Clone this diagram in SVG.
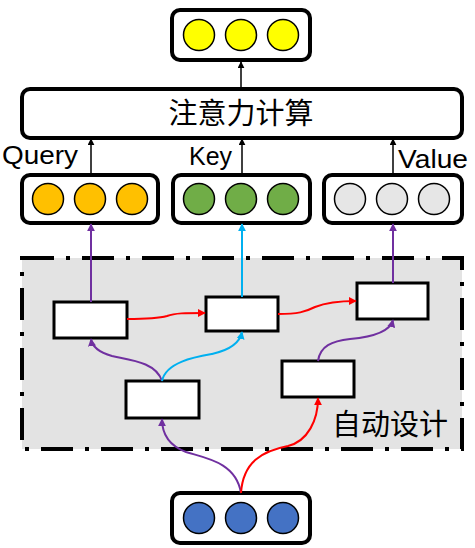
<svg xmlns="http://www.w3.org/2000/svg" width="475" height="548" viewBox="0 0 475 548">
<defs>
<style>
.box{fill:#fff;stroke:#000;stroke-width:4}
.cell{fill:#fff;stroke:#000;stroke-width:3}
.c{stroke:#000;stroke-width:1.5}
.lbl{font-family:"Liberation Sans",Arial,sans-serif;font-size:25px;fill:#000}
.cjk{font-family:"Noto Sans CJK SC","Liberation Sans",sans-serif;font-size:29px;fill:#000}
.k{fill:none;stroke:#000;stroke-width:1.5}
.p{fill:none;stroke:#7030a0;stroke-width:2}
.b{fill:none;stroke:#00b0f0;stroke-width:2}
.r{fill:none;stroke:#ff0000;stroke-width:2}
</style>
<marker id="ak" viewBox="0 0 10 10" refX="9" refY="5" markerWidth="7" markerHeight="7" markerUnits="userSpaceOnUse" orient="auto"><path d="M0,0L10,5L0,10z" fill="#000"/></marker>
<marker id="ap" viewBox="0 0 10 10" refX="9" refY="5" markerWidth="8" markerHeight="8" markerUnits="userSpaceOnUse" orient="auto"><path d="M0,0L10,5L0,10z" fill="#7030a0"/></marker>
<marker id="ab" viewBox="0 0 10 10" refX="9" refY="5" markerWidth="8" markerHeight="8" markerUnits="userSpaceOnUse" orient="auto"><path d="M0,0L10,5L0,10z" fill="#00b0f0"/></marker>
<marker id="ar" viewBox="0 0 10 10" refX="9" refY="5" markerWidth="8" markerHeight="8" markerUnits="userSpaceOnUse" orient="auto"><path d="M0,0L10,5L0,10z" fill="#ff0000"/></marker>
</defs>

<g id="auto-design-region">
<rect x="22" y="258" width="440" height="191" fill="#e3e3e3" stroke="#000" stroke-width="4" stroke-dasharray="32 12 4 12"/>
<text class="cjk" x="332" y="435">自动设计</text>
</g>

<g id="output">
<rect class="box" x="172" y="10" width="138" height="50" rx="8"/>
<circle class="c" cx="199" cy="35" r="15.5" fill="#ffff00"/>
<circle class="c" cx="241" cy="35" r="15.5" fill="#ffff00"/>
<circle class="c" cx="283" cy="35" r="15.5" fill="#ffff00"/>
</g>

<g id="attention">
<rect class="box" x="22" y="89" width="440" height="49" rx="8"/>
<text class="cjk" x="241" y="124" text-anchor="middle">注意力计算</text>
</g>

<g id="query">
<rect class="box" x="22" y="175" width="136" height="48" rx="8"/>
<circle class="c" cx="48" cy="199" r="15.5" fill="#ffc000"/>
<circle class="c" cx="90" cy="199" r="15.5" fill="#ffc000"/>
<circle class="c" cx="132" cy="199" r="15.5" fill="#ffc000"/>
<text class="lbl" x="2" y="164" textLength="76" lengthAdjust="spacingAndGlyphs">Query</text>
</g>

<g id="key">
<rect class="box" x="173" y="175" width="137" height="48" rx="8"/>
<circle class="c" cx="199" cy="199" r="15.5" fill="#70ad47"/>
<circle class="c" cx="241" cy="199" r="15.5" fill="#70ad47"/>
<circle class="c" cx="283" cy="199" r="15.5" fill="#70ad47"/>
<text class="lbl" x="189" y="165" textLength="43" lengthAdjust="spacingAndGlyphs">Key</text>
</g>

<g id="value">
<rect class="box" x="324" y="175" width="138" height="48" rx="8"/>
<circle class="c" cx="350" cy="199" r="15.5" fill="#e6e6e6"/>
<circle class="c" cx="392" cy="199" r="15.5" fill="#e6e6e6"/>
<circle class="c" cx="434" cy="199" r="15.5" fill="#e6e6e6"/>
<text class="lbl" x="398" y="168" textLength="70" lengthAdjust="spacingAndGlyphs">Value</text>
</g>

<g id="input">
<rect class="box" x="172" y="493" width="138" height="50" rx="8"/>
<circle class="c" cx="199" cy="518" r="15.5" fill="#4472c4"/>
<circle class="c" cx="241" cy="518" r="15.5" fill="#4472c4"/>
<circle class="c" cx="283" cy="518" r="15.5" fill="#4472c4"/>
</g>

<g id="op1"><rect class="cell" x="54" y="302" width="73" height="36"/></g>
<g id="op2"><rect class="cell" x="206" y="297" width="72" height="34"/></g>
<g id="op3"><rect class="cell" x="357" y="283" width="71" height="36"/></g>
<g id="op4"><rect class="cell" x="126" y="381" width="73" height="37"/></g>
<g id="op5"><rect class="cell" x="282" y="361" width="72" height="36"/></g>

<g id="connectors">
<path class="k" d="M241,88V62" marker-end="url(#ak)"/>
<path class="k" d="M91,174V139" marker-end="url(#ak)"/>
<path class="k" d="M242,174V139" marker-end="url(#ak)"/>
<path class="k" d="M393,174V139" marker-end="url(#ak)"/>

<path class="p" d="M91,302V224" marker-end="url(#ap)"/>
<path class="b" d="M242,297V224" marker-end="url(#ab)"/>
<path class="p" d="M393,283V224" marker-end="url(#ap)"/>

<path class="r" d="M127,319C150,319 160,318 167,316C175,313 185,313 205,313" marker-end="url(#ar)"/>
<path class="r" d="M278,314C298,314 305,312 315,307C325,303 340,301 356,301" marker-end="url(#ar)"/>

<path class="p" d="M162,381C156,362 130,360 112,356C98,352 92,346 91,339" marker-end="url(#ap)"/>
<path class="b" d="M162,381C166,362 195,357 212,354C230,350 240,342 242,332" marker-end="url(#ab)"/>
<path class="p" d="M318,361C320,346 332,341 350,339C372,337 390,332 393,320" marker-end="url(#ap)"/>

<path class="p" d="M241,493C236,462 205,458 186,452C170,446 162,434 162,419" marker-end="url(#ap)"/>
<path class="r" d="M241,493C243,462 262,451 288,446C308,441 318,420 318,398" marker-end="url(#ar)"/>
</g>
</svg>
